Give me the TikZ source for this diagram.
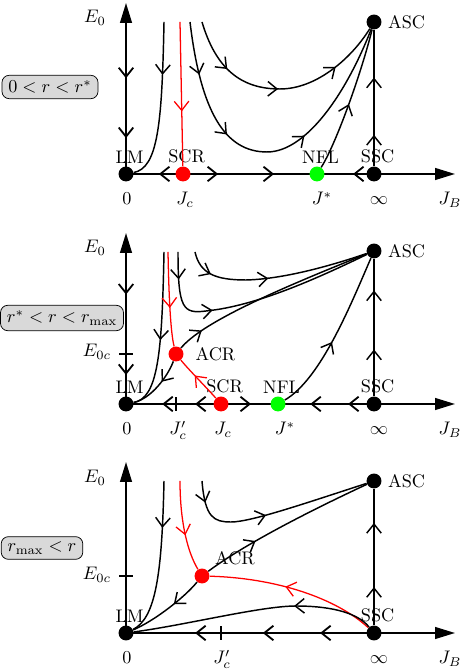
\documentclass[tikz,border=0pt]{standalone}
\usepackage{tikz}
\usetikzlibrary{arrows.meta,decorations.markings}

\tikzset{
  fp/.style={circle, fill=black, inner sep=0pt, minimum size=8.2pt},
  fplab/.style={label={[xshift=2pt, inner sep=1.5pt]above:#1}},
  axis/.style={line width=1pt, -{Triangle[length=11pt,width=6.5pt]}},
  tick/.style={line width=0.8pt},
  flow/.style={line width=0.8pt},
  sep/.style={red, line width=0.7pt},
  regime/.style={draw, rounded corners=4pt, fill=black!15, inner xsep=3.5pt, inner ysep=2.8pt},
  fwd/.style={postaction={decorate, decoration={markings, mark=at position #1 with {\arrow{>}}}}},
  bwd/.style={postaction={decorate, decoration={markings, mark=at position #1 with {\arrowreversed{>}}}}},
}

\begin{document}
\begin{tikzpicture}[x=0.55pt, y=0.55pt, >={Straight Barb[length=5pt,width=8pt]}]
\useasboundingbox (0,0) rectangle (463,671);

% 0 < r < r^*
\begin{scope}[shift={(126,497)}]
  \node[regime] (ra) at (-76,87) {$0<r<r^*$};
  \coordinate (Oa) at (0,0);
  \coordinate (Xa) at (329,0);
  \coordinate (Ya) at (0,171);
  \draw[axis, bwd=0.21, bwd=0.56] (Oa) -- (Ya);
  \draw[axis, bwd=0.1, fwd=0.28, fwd=0.45, bwd=0.69] (Oa) -- (Xa);
  \node (E0a) at (-31,156) {$E_0$};
  \node[anchor=base] (z0a) at (1,-31) {$0$};
  \node[anchor=base] (zJca) at (59,-31) {$J_c$};
  \node[anchor=base] (zJsa) at (196,-31) {$J^*$};
  \node[anchor=base] (zInfa) at (253,-31) {$\infty$};
  \node[anchor=base] (zJBa) at (324,-31) {$J_B$};
  \node[fp, fplab=LM] (LMa) at (0,0) {};
  \node[fp, fill=red, fplab=SCR] (SCRa) at (57,0) {};
  \node[fp, fill=green, fplab=NFL] (NFLa) at (191,0) {};
  \node[fp, fplab=SSC] (SSCa) at (248,0) {};
  \node[fp, label=right:ASC] (ASCa) at (248,152) {};
  \coordinate (s1a) at (38,152);
  \coordinate (s2a) at (54,152);
  \coordinate (s3a) at (64,152);
  \coordinate (s4a) at (76,152);
  \draw[flow, fwd=0.23, fwd=0.65] (SSCa) -- (ASCa);
  \draw[flow, fwd=0.33] (s1a) .. controls (36,50) and (32,6) .. (LMa);
  \draw[sep, fwd=0.62] (s2a) -- (SCRa);
  \draw[flow, fwd=0.16, fwd=0.36, fwd=0.62] (s3a) .. controls (75,60) and (100,22) .. (141,22) .. controls (180,22) and (220,80) .. (ASCa);
  \draw[flow, fwd=0.24, fwd=0.49, fwd=0.77] (s4a) .. controls (90,105) and (115,85) .. (154,85) .. controls (190,85) and (225,115) .. (ASCa);
  \draw[flow, fwd=0.47] (NFLa) .. controls (210,30) and (235,100) .. (ASCa);
\end{scope}

% r^* < r < r_max
\begin{scope}[shift={(126,267)}]
  \node[regime] (rb) at (-64,86) {$r^*<r<r_{\max}$};
  \coordinate (Ob) at (0,0);
  \coordinate (Xb) at (329,0);
  \coordinate (Yb) at (0,171);
  \draw[axis, bwd=0.17, bwd=0.64] (Ob) -- (Yb);
  \draw[axis, bwd=0.11, bwd=0.21, fwd=0.38, bwd=0.56, bwd=0.675] (Ob) -- (Xb);
  \draw[tick] (-7,50) -- (7,50);
  \draw[tick] (50,-7) -- (50,7);
  \node (E0b) at (-31,156) {$E_0$};
  \node (E0cb) at (-29,52) {$E_{0c}$};
  \node[anchor=base] (z0b) at (1,-31) {$0$};
  \node[anchor=base] (zJpb) at (52,-31) {$J'_c$};
  \node[anchor=base] (zJcb) at (97,-31) {$J_c$};
  \node[anchor=base] (zJsb) at (159,-31) {$J^*$};
  \node[anchor=base] (zInfb) at (253,-31) {$\infty$};
  \node[anchor=base] (zJBb) at (324,-31) {$J_B$};
  \node[fp, fplab=LM] (LMb) at (0,0) {};
  \node[fp, fill=red, fplab=SCR] (SCRb) at (95,0) {};
  \node[fp, fill=green, fplab=NFL] (NFLb) at (152,0) {};
  \node[fp, fplab=SSC] (SSCb) at (248,0) {};
  \node[fp, label=right:ASC] (ASCb) at (248,153) {};
  \node[fp, fill=red, label={[label distance=3pt]right:ACR}] (ACRb) at (50,50) {};
  \coordinate (s1b) at (38,152);
  \coordinate (s2b) at (42,152);
  \coordinate (s3b) at (52,152);
  \coordinate (s4b) at (69,152);
  \draw[flow, fwd=0.34, fwd=0.77] (SSCb) -- (ASCb);
  \draw[flow, fwd=0.55] (s1b) .. controls (36,50) and (32,6) .. (LMb);
  \draw[sep, fwd=0.59] (s2b) .. controls (43,100) and (45,70) .. (ACRb);
  \draw[sep, fwd=0.6] (SCRb) .. controls (80,17) and (62,35) .. (ACRb);
  \draw[flow, fwd=0.4] (ACRb) .. controls (42,28) and (25,5) .. (LMb);
  \draw[flow, fwd=0.13] (ACRb) .. controls (75,80) and (140,110) .. (ASCb);
  \draw[flow, fwd=0.11, fwd=0.34] (s3b) .. controls (52,95) and (57,90) .. (80,93) .. controls (130,98) and (190,125) .. (ASCb);
  \draw[flow, fwd=0.15, fwd=0.46] (s4b) .. controls (74,130) and (90,124) .. (120,124) .. controls (160,125) and (210,140) .. (ASCb);
  \draw[flow, fwd=0.45] (NFLb) .. controls (195,25) and (225,100) .. (ASCb);
\end{scope}

% r_max < r
\begin{scope}[shift={(126,38)}]
  \node[regime] (rc) at (-84,85) {$r_{\max}<r$};
  \coordinate (Oc) at (0,0);
  \coordinate (Xc) at (329,0);
  \coordinate (Yc) at (0,171);
  \draw[axis] (Oc) -- (Yc);
  \draw[axis, bwd=0.21, bwd=0.416, bwd=0.59] (Oc) -- (Xc);
  \draw[tick] (-7,57) -- (7,57);
  \draw[tick] (95,-7) -- (95,7);
  \node (E0c) at (-31,155) {$E_0$};
  \node (E0cc) at (-29,58) {$E_{0c}$};
  \node[anchor=base] (z0c) at (1,-31) {$0$};
  \node[anchor=base] (zJpc) at (96,-31) {$J'_c$};
  \node[anchor=base] (zInfc) at (253,-31) {$\infty$};
  \node[anchor=base] (zJBc) at (324,-31) {$J_B$};
  \node[fp, fplab=LM] (LMc) at (0,0) {};
  \node[fp, fplab=SSC] (SSCc) at (248,0) {};
  \node[fp, label=right:ASC] (ASCc) at (248,152) {};
  \node[fp, fill=red, label={[anchor=south west, inner sep=0pt, xshift=4pt, yshift=3pt]45:ACR}] (ACRc) at (76,57) {};
  \coordinate (s1c) at (38,152);
  \coordinate (s2c) at (54,152);
  \coordinate (s3c) at (76,152);
  \draw[flow, fwd=0.28, fwd=0.75] (SSCc) -- (ASCc);
  \draw[flow, fwd=0.3] (s1c) .. controls (36,60) and (30,15) .. (LMc);
  \draw[sep, fwd=0.6] (s2c) .. controls (54,110) and (62,80) .. (ACRc);
  \draw[sep, fwd=0.55] (SSCc) .. controls (210,35) and (150,55) .. (ACRc);
  \draw[flow, fwd=0.4] (ACRc) .. controls (58,35) and (28,12) .. (LMc);
  \draw[flow, fwd=0.31] (ACRc) .. controls (120,90) and (190,125) .. (ASCc);
  \draw[flow, fwd=0.11, fwd=0.47] (s3c) .. controls (79,115) and (88,111) .. (105,111) .. controls (125,111) and (180,130) .. (ASCc);
  \draw[flow, fwd=0.33] (SSCc) .. controls (230,22) and (200,27) .. (170,27) .. controls (135,27) and (60,8) .. (LMc);
\end{scope}
\end{tikzpicture}
\end{document}
